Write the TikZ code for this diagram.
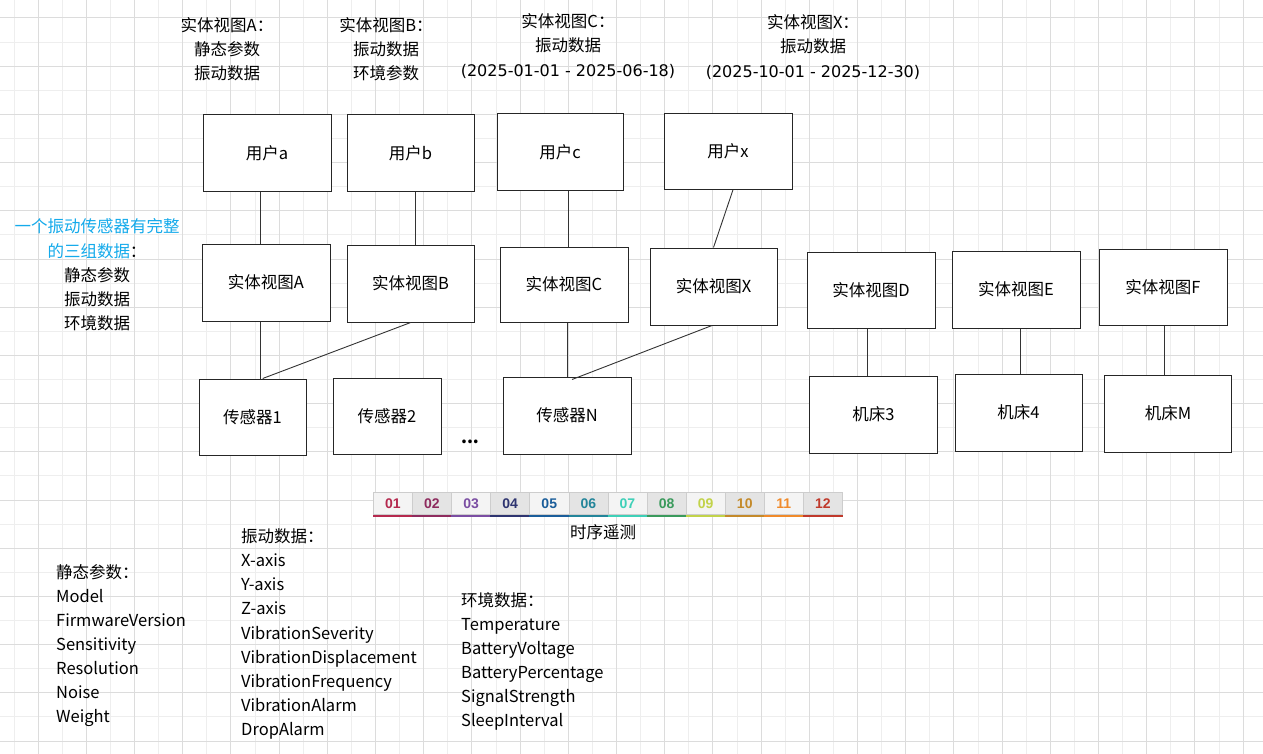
\documentclass[tikz,border=0pt]{standalone}
\usepackage{fontspec}
\setmainfont{Noto Sans CJK SC}
\newfontfamily\numfont{Liberation Sans}
\newfontfamily\datefont{DejaVu Sans}
\usetikzlibrary{calc}
\definecolor{gridminor}{RGB}{238,238,238}
\definecolor{gridmajor}{RGB}{220,220,220}
\definecolor{infoblue}{RGB}{20,170,235}
\definecolor{cellA}{RGB}{244,244,244}
\definecolor{cellB}{RGB}{228,228,228}
\definecolor{cellborder}{RGB}{205,205,205}
\definecolor{m01}{RGB}{181,41,78}
\definecolor{m02}{RGB}{142,43,94}
\definecolor{m03}{RGB}{123,78,163}
\definecolor{m04}{RGB}{46,52,112}
\definecolor{m05}{RGB}{26,93,154}
\definecolor{m06}{RGB}{35,133,154}
\definecolor{m07}{RGB}{63,208,184}
\definecolor{m08}{RGB}{58,154,92}
\definecolor{m09}{RGB}{194,211,74}
\definecolor{m10}{RGB}{196,138,42}
\definecolor{m11}{RGB}{240,138,42}
\definecolor{m12}{RGB}{192,57,43}
\begin{document}
\begin{tikzpicture}[x=1pt,y=-1pt,
  gmin/.style={draw=gridminor, line width=1pt},
  gmaj/.style={draw=gridmajor, line width=1pt},
  box/.style={draw=black!85, line width=1pt, fill=white, inner sep=0pt,
    font=\fontsize{16.5}{20}\selectfont},
  conn/.style={draw=black!80, line width=0.9pt},
  lab/.style={align=center, inner sep=0pt, font=\fontsize{16.5}{24.2}\selectfont},
  listtxt/.style={align=left, anchor=west, inner sep=0pt, font=\fontsize{16.5}{24.1}\selectfont},
  cell/.style={draw=cellborder, line width=0.6pt, minimum width=39.1, minimum height=22, inner sep=0pt,
    font=\numfont\bfseries\fontsize{14}{14}\selectfont}
]
\useasboundingbox (0,0) rectangle (1263,754);
\fill[white] (0,0) rectangle (1263,754);
% grid
\foreach \k in {0,...,51} \draw[gmin] ({14+24.1*\k},0) -- ({14+24.1*\k},754);
\foreach \k in {0,...,30} \draw[gmin] (0,{18+24.1*\k}) -- (1263,{18+24.1*\k});
\foreach \k in {1,3,...,51} \draw[gmaj] ({14+24.1*\k},0) -- ({14+24.1*\k},754);
\foreach \k in {0,2,...,30} \draw[gmaj] (0,{18+24.1*\k}) -- (1263,{18+24.1*\k});

% top labels
\node[lab] (labA) at (227,49) {实体视图A：\\静态参数\\振动数据};
\node[lab] (labB) at (386,49) {实体视图B：\\振动数据\\环境参数};
\node[lab] (labC) at (568,46) {实体视图C：\\振动数据\\{\datefont\fontsize{16}{24.2}\selectfont (2025-01-01 - 2025-06-18)}};
\node[lab] (labX) at (813,47) {实体视图X：\\振动数据\\{\datefont\fontsize{16}{24.2}\selectfont (2025-10-01 - 2025-12-30)}};

% info text
\node[lab] (info) at (97,275) {{\color{infoblue}一个振动传感器有完整}\\{\color{infoblue}的三组数据}：\\静态参数\\振动数据\\环境数据};

% users
\node[box, minimum width=128, minimum height=77] (ua) at (267,153.5) {用户a};
\node[box, minimum width=127, minimum height=77] (ub) at (410.5,153.5) {用户b};
\node[box, minimum width=126, minimum height=77] (uc) at (560,152.5) {用户c};
\node[box, minimum width=128, minimum height=76] (ux) at (728,151.3) {用户x};

% entity views
\node[box, minimum width=128, minimum height=77] (vA) at (266,282.5) {实体视图A};
\node[box, minimum width=127, minimum height=77] (vB) at (410.5,283.5) {实体视图B};
\node[box, minimum width=128, minimum height=75] (vC) at (564,284.5) {实体视图C};
\node[box, minimum width=127, minimum height=77] (vX) at (713.5,286.5) {实体视图X};
\node[box, minimum width=128, minimum height=76] (vD) at (871,290) {实体视图D};
\node[box, minimum width=128, minimum height=77] (vE) at (1016,289.5) {实体视图E};
\node[box, minimum width=128, minimum height=76] (vF) at (1163,287.5) {实体视图F};

% sensors
\node[box, minimum width=107, minimum height=76] (s1) at (252.5,417) {传感器1};
\node[box, minimum width=108, minimum height=76] (s2) at (387,416) {传感器2};
\node[box, minimum width=128, minimum height=77] (sN) at (567,415.5) {传感器N};
\node[inner sep=0pt, font=\bfseries\fontsize{17}{20}\selectfont] (dots) at (470,441.5) {...};

% machines
\node[box, minimum width=128, minimum height=77] (m3) at (873.5,414.5) {机床3};
\node[box, minimum width=127, minimum height=77] (m4) at (1018.5,412.5) {机床4};
\node[box, minimum width=127, minimum height=77] (mM) at (1168,413.5) {机床M};

% connectors
\draw[conn] ([xshift=-7]ua.south) -- ([xshift=-6]vA.north);
\draw[conn] ([xshift=4.5]ub.south) -- ([xshift=4.5]vB.north);
\draw[conn] ([xshift=8]uc.south) -- ([xshift=4]vC.north);
\draw[conn] ([xshift=5]ux.south) -- ([xshift=0]vX.north);
\draw[conn] ([xshift=-5.3]vA.south) -- ([xshift=8.2]s1.north);
\draw[conn] ([xshift=0.2]vB.south) -- ([xshift=10.2]s1.north);
\draw[conn] ([xshift=3.3]vC.south) -- ([xshift=0.3]sN.north);
\draw[conn] ([xshift=-1.5]vX.south) -- ([xshift=5,yshift=-3]sN.north);
\draw[conn] ([xshift=-3.3]vD.south) -- ([xshift=-5.8]m3.north);
\draw[conn] ([xshift=4.4]vE.south) -- ([xshift=1.9]m4.north);
\draw[conn] ([xshift=1.3]vF.south) -- ([xshift=-3.7]mM.north);

% timeline
\foreach \num/\col [count=\n] in {01/m01,02/m02,03/m03,04/m04,05/m05,06/m06,07/m07,08/m08,09/m09,10/m10,11/m11,12/m12}{
  \ifodd\n\def\cf{cellA}\else\def\cf{cellB}\fi
  \node[cell, fill=\cf, text=\col] (t\n) at ({373.3+39.1*(\n-0.5)},503.5) {\num};
  \draw[\col, line width=2.5pt] ([yshift=-1.2]t\n.south west) -- ([yshift=-1.2]t\n.south east);
}
\node[lab] (tl) at (603,532) {时序遥测};

% lists
\node[listtxt] (lstS) at (56,645.5) {静态参数：\\Model\\FirmwareVersion\\Sensitivity\\Resolution\\Noise\\Weight};
\node[listtxt] (lstV) at (241,634) {振动数据：\\X-axis\\Y-axis\\Z-axis\\VibrationSeverity\\VibrationDisplacement\\VibrationFrequency\\VibrationAlarm\\DropAlarm};
\node[listtxt] (lstE) at (461,661.5) {环境数据：\\Temperature\\BatteryVoltage\\BatteryPercentage\\SignalStrength\\SleepInterval};
\end{tikzpicture}
\end{document}
